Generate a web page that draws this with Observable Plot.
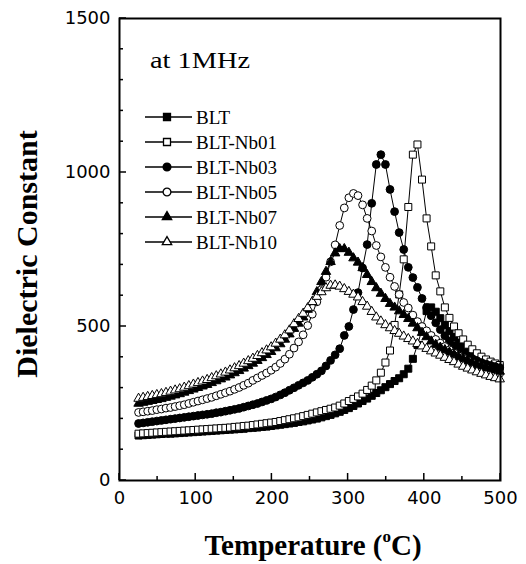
<!DOCTYPE html>
<html><head><meta charset="utf-8">
<script src="https://cdn.jsdelivr.net/npm/d3@7"></script>
<script src="https://cdn.jsdelivr.net/npm/@observablehq/plot@0.6"></script>
<style>body{margin:0;background:#fff}#chart{width:526px;height:564px}</style>
</head><body><div id="chart"></div>
<script>
const temperature = [25,31,37,43,49,55,61,67,73,79,
 85,91,97,103,109,115,121,127,133,139,
 145,151,157,163,169,175,181,187,193,199,
 205,211,217,223,229,235,241,247,253,259,
 265,271,277,283,289,295,301,307,313,319,
 325,331,337,343,349,355,361,367,373,379,
 385,391,397,403,409,415,421,427,433,439,
 445,451,457,463,469,475,481,487,493,499];
const BLT = [146,147,148,149,150,151,152,152,153,154,
 155,156,157,158,159,160,161,162,163,164,
 165,166,167,168,170,171,172,174,175,177,
 179,181,183,185,187,190,192,195,198,201,
 205,209,213,218,223,229,235,242,250,258,
 266,275,284,293,303,313,323,332,345,363,
 395,440,490,550,562,548,527,505,485,466,
 448,433,420,409,400,392,385,379,373,368];
const BLT_Nb01 = [152,153,154,155,156,157,158,159,160,161,
 162,163,164,165,166,167,168,169,170,171,
 172,174,175,177,178,180,182,184,186,188,
 190,193,196,199,202,205,209,213,217,221,
 225,229,233,237,243,250,258,265,273,282,
 294,308,325,350,383,422,505,604,718,888,
 1058,1091,977,851,760,666,614,562,528,500,
 478,458,441,426,413,402,393,386,380,375];
const BLT_Nb03 = [185,187,189,191,193,195,197,199,201,203,
 205,207,209,211,213,215,217,220,222,225,
 228,231,234,238,242,246,250,255,260,265,
 271,278,285,293,301,309,317,325,335,345,
 356,372,390,408,428,471,500,555,610,690,
 766,900,1026,1058,1026,945,873,805,750,692,
 659,627,591,562,535,512,490,470,453,438,
 425,414,404,396,389,383,378,374,370,366];
const BLT_Nb05 = [221,223,225,227,230,232,235,237,240,243,
 246,250,254,258,262,266,270,275,280,285,
 290,296,302,309,316,325,333,341,349,358,
 368,380,394,410,430,450,473,503,540,580,
 620,660,710,765,828,885,918,932,925,895,
 851,810,763,726,692,660,630,604,578,560,
 537,516,500,486,471,458,446,435,424,414,
 405,397,389,382,375,368,362,357,352,348];
const BLT_Nb07 = [250,253,256,259,262,265,269,273,277,281,
 286,291,296,301,306,311,317,323,329,335,
 342,349,356,364,372,380,389,398,408,418,
 430,443,458,475,493,510,530,555,580,612,
 645,678,710,738,752,752,740,722,708,690,
 668,645,625,607,590,574,562,550,538,525,
 510,495,480,466,452,441,432,424,416,409,
 402,395,388,382,376,371,366,362,358,354];
const BLT_Nb10 = [266,269,272,275,278,281,285,289,293,297,
 302,307,312,317,322,327,333,339,345,351,
 358,365,372,380,388,396,405,414,423,433,
 445,458,472,488,508,525,542,560,580,597,
 612,625,633,634,630,622,613,604,595,580,
 565,548,530,517,505,495,486,477,468,460,
 452,444,436,428,420,413,406,399,392,385,
 377,370,364,358,352,347,342,337,333,329];

const seriesNames = ["BLT","BLT-Nb01","BLT-Nb03","BLT-Nb05","BLT-Nb07","BLT-Nb10"];
const seriesValues = [BLT, BLT_Nb01, BLT_Nb03, BLT_Nb05, BLT_Nb07, BLT_Nb10];
const seriesSymbols = ["square","square","circle","circle","triangle","triangle"];
const seriesFills = ["black","white","black","white","black","white"];
const xTicks = [0,100,200,300,400,500];
const xMinorTicks = [50,150,250,350,450];
const yTicks = [0,500,1000,1500];
const yMinorTicks = [100,200,300,400,600,700,800,900,1100,1200,1300,1400];
const xTitle = "Temperature (";
const xTitleSup = "o";
const xTitleEnd = "C)";
const yTitle = "Dielectric Constant";
const annotation = "at 1MHz";

const symR = {square: 3.95, circle: 3.9, triangle: 3.5};

const rows = [];
seriesNames.forEach((name, i) => {
  temperature.forEach((t, j) => rows.push({series: name, T: t, v: seriesValues[i][j]}));
});

const marks = [
  Plot.line(rows, {x: "T", y: "v", z: "series", stroke: "black", strokeWidth: 1})
];
seriesNames.forEach((name, i) => {
  marks.push(Plot.dot(rows.filter(d => d.series === name), {
    x: "T", y: "v", symbol: seriesSymbols[i], r: symR[seriesSymbols[i]],
    fill: seriesFills[i], stroke: "black", strokeWidth: 1
  }));
});
marks.push(
  Plot.axisX(xTicks, {tickSize: 0, tickPadding: 11, fontSize: 18, tickFormat: d => String(d)}),
  Plot.axisY(yTicks, {tickSize: 0, tickPadding: 9, fontSize: 18, tickFormat: d => String(d)}),
  Plot.frame({stroke: "black", strokeWidth: 2})
);

const chart = Plot.plot({
  width: 526, height: 564,
  marginLeft: 119, marginRight: 26, marginTop: 18, marginBottom: 84,
  x: {domain: [0, 500], label: null},
  y: {domain: [0, 1500], label: null},
  style: {fontFamily: "DejaVu Sans", fontSize: "18px", color: "black", background: "white", overflow: "visible"},
  marks
});
document.getElementById("chart").appendChild(chart);

const sx = chart.scale("x"), sy = chart.scale("y");
const svg = d3.select(chart);
// inward ticks drawn from the Plot scales
const tk = svg.append("g").attr("stroke", "black").attr("stroke-width", 1.5);
const x0 = sx.apply(0), y0 = sy.apply(0);
xTicks.forEach(t => tk.append("line").attr("x1", sx.apply(t)).attr("x2", sx.apply(t)).attr("y1", y0).attr("y2", y0 - 7));
xMinorTicks.forEach(t => tk.append("line").attr("x1", sx.apply(t)).attr("x2", sx.apply(t)).attr("y1", y0).attr("y2", y0 - 4));
yTicks.forEach(t => tk.append("line").attr("y1", sy.apply(t)).attr("y2", sy.apply(t)).attr("x1", x0).attr("x2", x0 + 7));
yMinorTicks.forEach(t => tk.append("line").attr("y1", sy.apply(t)).attr("y2", sy.apply(t)).attr("x1", x0).attr("x2", x0 + 4));

const serif = "'Liberation Serif', 'Times New Roman', serif";
// axis titles
const xt = svg.append("text").attr("x", 313).attr("y", 555).attr("text-anchor", "middle")
  .attr("font-family", serif).attr("font-weight", "bold").attr("font-size", 29).attr("fill", "black");
xt.append("tspan").text(xTitle);
xt.append("tspan").attr("font-size", 17).attr("dy", -13).text(xTitleSup);
xt.append("tspan").attr("dy", 13).text(xTitleEnd);
svg.append("text").attr("transform", "translate(37,254) rotate(-90)").attr("text-anchor", "middle")
  .attr("font-family", serif).attr("font-weight", "bold").attr("font-size", 30).attr("fill", "black").text(yTitle);
// annotation
svg.append("text").attr("x", 150).attr("y", 68).attr("text-anchor", "start").attr("font-family", serif).attr("font-size", 24)
  .attr("textLength", 100).attr("lengthAdjust", "spacingAndGlyphs").attr("fill", "black").text(annotation);
// legend
const symType = {square: d3.symbolSquare, circle: d3.symbolCircle, triangle: d3.symbolTriangle};
const leg = svg.append("g");
seriesNames.forEach((name, i) => {
  const y = 117 + 25 * i;
  const g = leg.append("g").attr("transform", `translate(0,${y})`);
  g.append("line").attr("x1", 145).attr("x2", 192).attr("y1", 0).attr("y2", 0).attr("stroke", "black").attr("stroke-width", 1.3);
  const r = symR[seriesSymbols[i]];
  g.append("path").attr("transform", "translate(167,0)")
    .attr("d", d3.symbol(symType[seriesSymbols[i]], Math.PI * r * r)())
    .attr("fill", seriesFills[i]).attr("stroke", "black").attr("stroke-width", 1.3);
  g.append("text").attr("x", 196).attr("y", 7).attr("text-anchor", "start").attr("font-family", serif).attr("font-size", 19)
    .attr("fill", "black").text(name);
});
</script></body></html>
